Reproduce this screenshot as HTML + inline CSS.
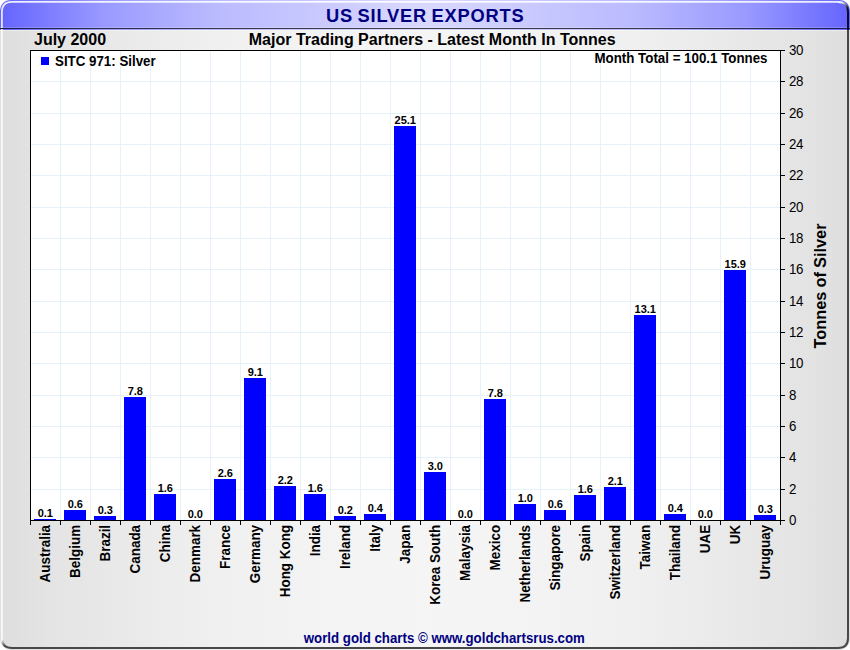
<!DOCTYPE html>
<html><head><meta charset="utf-8"><title>US Silver Exports</title>
<style>
html,body{margin:0;padding:0;background:#fff;}
body{width:850px;height:650px;overflow:hidden;}
svg{display:block;}
text{font-family:"Liberation Sans",sans-serif;}
.b{font-weight:bold;}
</style></head><body>
<svg width="850" height="650" viewBox="0 0 850 650">
<defs>
<linearGradient id="bg" x1="0" y1="0" x2="1" y2="0"><stop offset="0" stop-color="#dedede"/><stop offset="0.06" stop-color="#e4e4e4"/><stop offset="0.1235" stop-color="#e8e8e8"/><stop offset="0.253" stop-color="#f0f0f0"/><stop offset="0.37" stop-color="#f3f3f3"/><stop offset="0.5" stop-color="#f5f5f5"/><stop offset="0.63" stop-color="#f3f3f3"/><stop offset="0.747" stop-color="#f0f0f0"/><stop offset="0.8765" stop-color="#e8e8e8"/><stop offset="0.94" stop-color="#e4e4e4"/><stop offset="1" stop-color="#dedede"/></linearGradient>
<linearGradient id="tb" x1="0" y1="0" x2="1" y2="0"><stop offset="0" stop-color="#6464ff"/><stop offset="0.0588" stop-color="#7e7eff"/><stop offset="0.1235" stop-color="#9a9aff"/><stop offset="0.253" stop-color="#babaff"/><stop offset="0.359" stop-color="#c7c7ff"/><stop offset="0.4235" stop-color="#d0d0ff"/><stop offset="0.5" stop-color="#d9d9ff"/><stop offset="0.5765" stop-color="#d0d0ff"/><stop offset="0.641" stop-color="#c7c7ff"/><stop offset="0.747" stop-color="#babaff"/><stop offset="0.8765" stop-color="#9a9aff"/><stop offset="0.9412" stop-color="#7e7eff"/><stop offset="1" stop-color="#6464ff"/></linearGradient>
<linearGradient id="ctr" gradientUnits="userSpaceOnUse" x1="838" y1="2" x2="848" y2="12"><stop offset="0.2" stop-color="#f4f4ff"/><stop offset="0.8" stop-color="#101020"/></linearGradient>
<linearGradient id="cbl" gradientUnits="userSpaceOnUse" x1="2" y1="638" x2="12" y2="648"><stop offset="0.1" stop-color="#f4f4f4"/><stop offset="0.5" stop-color="#484848"/></linearGradient>
<clipPath id="frame"><rect x="0" y="0" width="850" height="650" rx="10.5" ry="10.5"/></clipPath>
</defs>
<g clip-path="url(#frame)">
<rect x="0" y="0" width="850" height="650" fill="url(#bg)"/>
<rect x="0" y="0" width="850" height="30" fill="url(#tb)"/>
<rect x="0" y="27" width="850" height="1" fill="#ffffff" opacity="0.18"/>
<rect x="0" y="28" width="850" height="1" fill="#000" opacity="0.7"/>
<rect x="0" y="30" width="850" height="1" fill="#fafaf0" opacity="0.5"/>
</g>
<!-- frame bevel -->
<path d="M1.9 638 L1.9 12 Q1.9 1.9 12 1.9 L838 1.9" fill="none" stroke="#ffffff" stroke-width="1.7" opacity="0.88"/>
<rect x="1" y="28" width="4" height="1" fill="#1e1e4c"/>
<path d="M838 2 Q848 2 848 12" fill="none" stroke="url(#ctr)" stroke-width="2"/>
<path d="M848 30 L848 638 Q848 648 838 648 L12 648" fill="none" stroke="#484848" stroke-width="2"/>
<path d="M848 12 L848 30" fill="none" stroke="#0c0c24" stroke-width="2"/>
<path d="M2 638 Q2 648 12 648" fill="none" stroke="url(#cbl)" stroke-width="2"/>

<rect x="30" y="50" width="751" height="471" fill="#ffffff"/>
<rect x="31" y="489" width="749" height="1" fill="#e6f2fb"/>
<rect x="31" y="457" width="749" height="1" fill="#e6f2fb"/>
<rect x="31" y="426" width="749" height="1" fill="#e6f2fb"/>
<rect x="31" y="395" width="749" height="1" fill="#e6f2fb"/>
<rect x="31" y="363" width="749" height="1" fill="#e6f2fb"/>
<rect x="31" y="332" width="749" height="1" fill="#e6f2fb"/>
<rect x="31" y="301" width="749" height="1" fill="#e6f2fb"/>
<rect x="31" y="269" width="749" height="1" fill="#e6f2fb"/>
<rect x="31" y="238" width="749" height="1" fill="#e6f2fb"/>
<rect x="31" y="207" width="749" height="1" fill="#e6f2fb"/>
<rect x="31" y="175" width="749" height="1" fill="#e6f2fb"/>
<rect x="31" y="144" width="749" height="1" fill="#e6f2fb"/>
<rect x="31" y="113" width="749" height="1" fill="#e6f2fb"/>
<rect x="31" y="81" width="749" height="1" fill="#e6f2fb"/>
<rect x="60" y="51" width="1" height="469" fill="#e6f2fb"/>
<rect x="90" y="51" width="1" height="469" fill="#e6f2fb"/>
<rect x="120" y="51" width="1" height="469" fill="#e6f2fb"/>
<rect x="150" y="51" width="1" height="469" fill="#e6f2fb"/>
<rect x="180" y="51" width="1" height="469" fill="#e6f2fb"/>
<rect x="210" y="51" width="1" height="469" fill="#e6f2fb"/>
<rect x="240" y="51" width="1" height="469" fill="#e6f2fb"/>
<rect x="270" y="51" width="1" height="469" fill="#e6f2fb"/>
<rect x="300" y="51" width="1" height="469" fill="#e6f2fb"/>
<rect x="330" y="51" width="1" height="469" fill="#e6f2fb"/>
<rect x="360" y="51" width="1" height="469" fill="#e6f2fb"/>
<rect x="390" y="51" width="1" height="469" fill="#e6f2fb"/>
<rect x="420" y="51" width="1" height="469" fill="#e6f2fb"/>
<rect x="450" y="51" width="1" height="469" fill="#e6f2fb"/>
<rect x="480" y="51" width="1" height="469" fill="#e6f2fb"/>
<rect x="510" y="51" width="1" height="469" fill="#e6f2fb"/>
<rect x="540" y="51" width="1" height="469" fill="#e6f2fb"/>
<rect x="570" y="51" width="1" height="469" fill="#e6f2fb"/>
<rect x="600" y="51" width="1" height="469" fill="#e6f2fb"/>
<rect x="630" y="51" width="1" height="469" fill="#e6f2fb"/>
<rect x="660" y="51" width="1" height="469" fill="#e6f2fb"/>
<rect x="690" y="51" width="1" height="469" fill="#e6f2fb"/>
<rect x="720" y="51" width="1" height="469" fill="#e6f2fb"/>
<rect x="750" y="51" width="1" height="469" fill="#e6f2fb"/>
<rect x="34" y="519" width="22" height="1" fill="#0000ff"/>
<text class="b" x="45.3" y="517" font-size="11" text-anchor="middle" fill="#000">0.1</text>
<rect x="64" y="510" width="22" height="10" fill="#0000ff"/>
<text class="b" x="75.3" y="508" font-size="11" text-anchor="middle" fill="#000">0.6</text>
<rect x="94" y="516" width="22" height="4" fill="#0000ff"/>
<text class="b" x="105.3" y="514" font-size="11" text-anchor="middle" fill="#000">0.3</text>
<rect x="124" y="397" width="22" height="123" fill="#0000ff"/>
<text class="b" x="135.3" y="395" font-size="11" text-anchor="middle" fill="#000">7.8</text>
<rect x="154" y="494" width="22" height="26" fill="#0000ff"/>
<text class="b" x="165.3" y="492" font-size="11" text-anchor="middle" fill="#000">1.6</text>
<text class="b" x="195.3" y="518" font-size="11" text-anchor="middle" fill="#000">0.0</text>
<rect x="214" y="479" width="22" height="41" fill="#0000ff"/>
<text class="b" x="225.3" y="477" font-size="11" text-anchor="middle" fill="#000">2.6</text>
<rect x="244" y="378" width="22" height="142" fill="#0000ff"/>
<text class="b" x="255.3" y="376" font-size="11" text-anchor="middle" fill="#000">9.1</text>
<rect x="274" y="486" width="22" height="34" fill="#0000ff"/>
<text class="b" x="285.3" y="484" font-size="11" text-anchor="middle" fill="#000">2.2</text>
<rect x="304" y="494" width="22" height="26" fill="#0000ff"/>
<text class="b" x="315.3" y="492" font-size="11" text-anchor="middle" fill="#000">1.6</text>
<rect x="334" y="516" width="22" height="4" fill="#0000ff"/>
<text class="b" x="345.3" y="514" font-size="11" text-anchor="middle" fill="#000">0.2</text>
<rect x="364" y="514" width="22" height="6" fill="#0000ff"/>
<text class="b" x="375.3" y="512" font-size="11" text-anchor="middle" fill="#000">0.4</text>
<rect x="394" y="126" width="22" height="394" fill="#0000ff"/>
<text class="b" x="405.3" y="124" font-size="11" text-anchor="middle" fill="#000">25.1</text>
<rect x="424" y="472" width="22" height="48" fill="#0000ff"/>
<text class="b" x="435.3" y="470" font-size="11" text-anchor="middle" fill="#000">3.0</text>
<text class="b" x="465.3" y="518" font-size="11" text-anchor="middle" fill="#000">0.0</text>
<rect x="484" y="399" width="22" height="121" fill="#0000ff"/>
<text class="b" x="495.3" y="397" font-size="11" text-anchor="middle" fill="#000">7.8</text>
<rect x="514" y="504" width="22" height="16" fill="#0000ff"/>
<text class="b" x="525.3" y="502" font-size="11" text-anchor="middle" fill="#000">1.0</text>
<rect x="544" y="510" width="22" height="10" fill="#0000ff"/>
<text class="b" x="555.3" y="508" font-size="11" text-anchor="middle" fill="#000">0.6</text>
<rect x="574" y="495" width="22" height="25" fill="#0000ff"/>
<text class="b" x="585.3" y="493" font-size="11" text-anchor="middle" fill="#000">1.6</text>
<rect x="604" y="487" width="22" height="33" fill="#0000ff"/>
<text class="b" x="615.3" y="485" font-size="11" text-anchor="middle" fill="#000">2.1</text>
<rect x="634" y="315" width="22" height="205" fill="#0000ff"/>
<text class="b" x="645.3" y="313" font-size="11" text-anchor="middle" fill="#000">13.1</text>
<rect x="664" y="514" width="22" height="6" fill="#0000ff"/>
<text class="b" x="675.3" y="512" font-size="11" text-anchor="middle" fill="#000">0.4</text>
<text class="b" x="705.3" y="518" font-size="11" text-anchor="middle" fill="#000">0.0</text>
<rect x="724" y="270" width="22" height="250" fill="#0000ff"/>
<text class="b" x="735.3" y="268" font-size="11" text-anchor="middle" fill="#000">15.9</text>
<rect x="754" y="515" width="22" height="5" fill="#0000ff"/>
<text class="b" x="765.3" y="513" font-size="11" text-anchor="middle" fill="#000">0.3</text>
<rect x="30" y="50" width="751" height="1" fill="#000"/>
<rect x="30" y="520" width="751" height="1" fill="#000"/>
<rect x="30" y="50" width="1" height="471" fill="#000"/>
<rect x="780" y="50" width="1" height="471" fill="#000"/>
<rect x="30" y="521" width="1" height="4" fill="#000"/>
<rect x="60" y="521" width="1" height="4" fill="#000"/>
<rect x="90" y="521" width="1" height="4" fill="#000"/>
<rect x="120" y="521" width="1" height="4" fill="#000"/>
<rect x="150" y="521" width="1" height="4" fill="#000"/>
<rect x="180" y="521" width="1" height="4" fill="#000"/>
<rect x="210" y="521" width="1" height="4" fill="#000"/>
<rect x="240" y="521" width="1" height="4" fill="#000"/>
<rect x="270" y="521" width="1" height="4" fill="#000"/>
<rect x="300" y="521" width="1" height="4" fill="#000"/>
<rect x="330" y="521" width="1" height="4" fill="#000"/>
<rect x="360" y="521" width="1" height="4" fill="#000"/>
<rect x="390" y="521" width="1" height="4" fill="#000"/>
<rect x="420" y="521" width="1" height="4" fill="#000"/>
<rect x="450" y="521" width="1" height="4" fill="#000"/>
<rect x="480" y="521" width="1" height="4" fill="#000"/>
<rect x="510" y="521" width="1" height="4" fill="#000"/>
<rect x="540" y="521" width="1" height="4" fill="#000"/>
<rect x="570" y="521" width="1" height="4" fill="#000"/>
<rect x="600" y="521" width="1" height="4" fill="#000"/>
<rect x="630" y="521" width="1" height="4" fill="#000"/>
<rect x="660" y="521" width="1" height="4" fill="#000"/>
<rect x="690" y="521" width="1" height="4" fill="#000"/>
<rect x="720" y="521" width="1" height="4" fill="#000"/>
<rect x="750" y="521" width="1" height="4" fill="#000"/>
<rect x="780" y="521" width="1" height="4" fill="#000"/>
<rect x="781" y="520" width="4" height="1" fill="#000"/>
<text transform="translate(789,525) scale(0.95,1)" font-size="14" letter-spacing="-0.5" fill="#000">0</text>
<rect x="781" y="489" width="4" height="1" fill="#000"/>
<text transform="translate(789,494) scale(0.95,1)" font-size="14" letter-spacing="-0.5" fill="#000">2</text>
<rect x="781" y="457" width="4" height="1" fill="#000"/>
<text transform="translate(789,462) scale(0.95,1)" font-size="14" letter-spacing="-0.5" fill="#000">4</text>
<rect x="781" y="426" width="4" height="1" fill="#000"/>
<text transform="translate(789,431) scale(0.95,1)" font-size="14" letter-spacing="-0.5" fill="#000">6</text>
<rect x="781" y="395" width="4" height="1" fill="#000"/>
<text transform="translate(789,400) scale(0.95,1)" font-size="14" letter-spacing="-0.5" fill="#000">8</text>
<rect x="781" y="363" width="4" height="1" fill="#000"/>
<text transform="translate(789,368) scale(0.95,1)" font-size="14" letter-spacing="-0.5" fill="#000">10</text>
<rect x="781" y="332" width="4" height="1" fill="#000"/>
<text transform="translate(789,337) scale(0.95,1)" font-size="14" letter-spacing="-0.5" fill="#000">12</text>
<rect x="781" y="301" width="4" height="1" fill="#000"/>
<text transform="translate(789,306) scale(0.95,1)" font-size="14" letter-spacing="-0.5" fill="#000">14</text>
<rect x="781" y="269" width="4" height="1" fill="#000"/>
<text transform="translate(789,274) scale(0.95,1)" font-size="14" letter-spacing="-0.5" fill="#000">16</text>
<rect x="781" y="238" width="4" height="1" fill="#000"/>
<text transform="translate(789,243) scale(0.95,1)" font-size="14" letter-spacing="-0.5" fill="#000">18</text>
<rect x="781" y="207" width="4" height="1" fill="#000"/>
<text transform="translate(789,212) scale(0.95,1)" font-size="14" letter-spacing="-0.5" fill="#000">20</text>
<rect x="781" y="175" width="4" height="1" fill="#000"/>
<text transform="translate(789,180) scale(0.95,1)" font-size="14" letter-spacing="-0.5" fill="#000">22</text>
<rect x="781" y="144" width="4" height="1" fill="#000"/>
<text transform="translate(789,149) scale(0.95,1)" font-size="14" letter-spacing="-0.5" fill="#000">24</text>
<rect x="781" y="113" width="4" height="1" fill="#000"/>
<text transform="translate(789,118) scale(0.95,1)" font-size="14" letter-spacing="-0.5" fill="#000">26</text>
<rect x="781" y="81" width="4" height="1" fill="#000"/>
<text transform="translate(789,86) scale(0.95,1)" font-size="14" letter-spacing="-0.5" fill="#000">28</text>
<rect x="781" y="50" width="4" height="1" fill="#000"/>
<text transform="translate(789,55) scale(0.95,1)" font-size="14" letter-spacing="-0.5" fill="#000">30</text>
<text class="b" transform="translate(50.1,524.9) rotate(-90) scale(0.96,1)" font-size="14" text-anchor="end" fill="#000">Australia</text>
<text class="b" transform="translate(80.1,524.9) rotate(-90) scale(0.96,1)" font-size="14" text-anchor="end" fill="#000">Belgium</text>
<text class="b" transform="translate(110.1,524.9) rotate(-90) scale(0.96,1)" font-size="14" text-anchor="end" fill="#000">Brazil</text>
<text class="b" transform="translate(140.1,524.9) rotate(-90) scale(0.96,1)" font-size="14" text-anchor="end" fill="#000">Canada</text>
<text class="b" transform="translate(170.1,524.9) rotate(-90) scale(0.96,1)" font-size="14" text-anchor="end" fill="#000">China</text>
<text class="b" transform="translate(200.1,524.9) rotate(-90) scale(0.96,1)" font-size="14" text-anchor="end" fill="#000">Denmark</text>
<text class="b" transform="translate(230.1,524.9) rotate(-90) scale(0.96,1)" font-size="14" text-anchor="end" fill="#000">France</text>
<text class="b" transform="translate(260.1,524.9) rotate(-90) scale(0.96,1)" font-size="14" text-anchor="end" fill="#000">Germany</text>
<text class="b" transform="translate(290.1,524.9) rotate(-90) scale(0.96,1)" font-size="14" text-anchor="end" fill="#000">Hong Kong</text>
<text class="b" transform="translate(320.1,524.9) rotate(-90) scale(0.96,1)" font-size="14" text-anchor="end" fill="#000">India</text>
<text class="b" transform="translate(350.1,524.9) rotate(-90) scale(0.96,1)" font-size="14" text-anchor="end" fill="#000">Ireland</text>
<text class="b" transform="translate(380.1,524.9) rotate(-90) scale(0.96,1)" font-size="14" text-anchor="end" fill="#000">Italy</text>
<text class="b" transform="translate(410.1,524.9) rotate(-90) scale(0.96,1)" font-size="14" text-anchor="end" fill="#000">Japan</text>
<text class="b" transform="translate(440.1,524.9) rotate(-90) scale(0.96,1)" font-size="14" text-anchor="end" fill="#000">Korea South</text>
<text class="b" transform="translate(470.1,524.9) rotate(-90) scale(0.96,1)" font-size="14" text-anchor="end" fill="#000">Malaysia</text>
<text class="b" transform="translate(500.1,524.9) rotate(-90) scale(0.96,1)" font-size="14" text-anchor="end" fill="#000">Mexico</text>
<text class="b" transform="translate(530.1,524.9) rotate(-90) scale(0.96,1)" font-size="14" text-anchor="end" fill="#000">Netherlands</text>
<text class="b" transform="translate(560.1,524.9) rotate(-90) scale(0.96,1)" font-size="14" text-anchor="end" fill="#000">Singapore</text>
<text class="b" transform="translate(590.1,524.9) rotate(-90) scale(0.96,1)" font-size="14" text-anchor="end" fill="#000">Spain</text>
<text class="b" transform="translate(620.1,524.9) rotate(-90) scale(0.96,1)" font-size="14" text-anchor="end" fill="#000">Switzerland</text>
<text class="b" transform="translate(650.1,524.9) rotate(-90) scale(0.96,1)" font-size="14" text-anchor="end" fill="#000">Taiwan</text>
<text class="b" transform="translate(680.1,524.9) rotate(-90) scale(0.96,1)" font-size="14" text-anchor="end" fill="#000">Thailand</text>
<text class="b" transform="translate(710.1,524.9) rotate(-90) scale(0.96,1)" font-size="14" text-anchor="end" fill="#000">UAE</text>
<text class="b" transform="translate(740.1,524.9) rotate(-90) scale(0.96,1)" font-size="14" text-anchor="end" fill="#000">UK</text>
<text class="b" transform="translate(770.1,524.9) rotate(-90) scale(0.96,1)" font-size="14" text-anchor="end" fill="#000">Uruguay</text>
<text class="b" x="326" y="22" font-size="18.3" letter-spacing="0.78" word-spacing="-1.2" fill="#000080">US SILVER EXPORTS</text>
<text class="b" x="34" y="45" font-size="16" fill="#000">July 2000</text>
<text class="b" x="432.2" y="45" font-size="16" text-anchor="middle" fill="#000">Major Trading Partners - Latest Month In Tonnes</text>
<rect x="41" y="57" width="8" height="8" fill="#0000ff"/>
<text class="b" transform="translate(55,66) scale(0.952,1)" font-size="14" fill="#000">SITC 971: Silver</text>
<text class="b" transform="translate(767.5,63) scale(0.952,1)" font-size="14" text-anchor="end" fill="#000">Month Total = 100.1 Tonnes</text>
<text class="b" transform="translate(825.9,286) rotate(-90) scale(0.99,1)" font-size="16.5" word-spacing="-0.4" text-anchor="middle" fill="#000">Tonnes of Silver</text>
<text class="b" transform="translate(444.3,643) scale(0.948,1)" font-size="14" text-anchor="middle" fill="#000080">world gold charts © www.goldchartsrus.com</text>
</svg></body></html>
